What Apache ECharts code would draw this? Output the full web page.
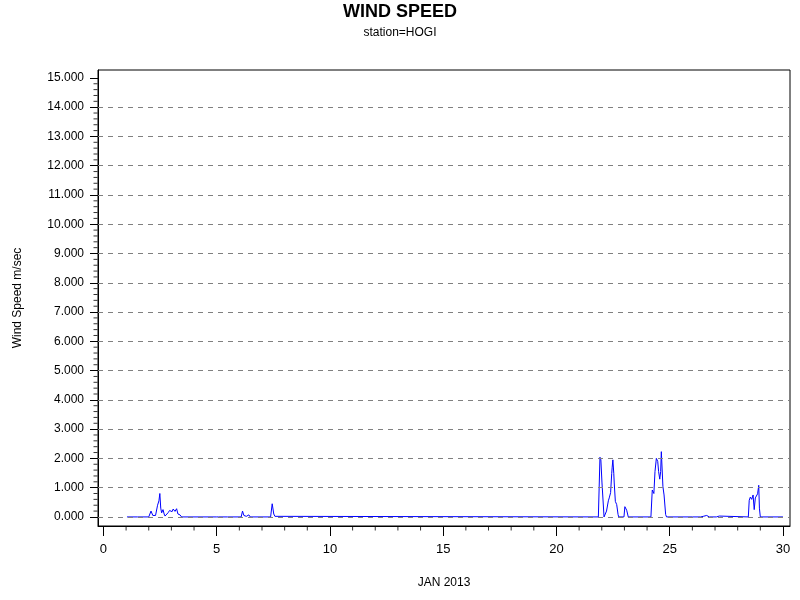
<!DOCTYPE html>
<html>
<head>
<meta charset="utf-8">
<script src="https://cdn.jsdelivr.net/npm/echarts@6/dist/echarts.min.js"></script>
<style>html,body{margin:0;padding:0;background:#fff}#c{width:800px;height:600px}</style>
</head>
<body>
<div id="c"></div>
<script>
// Day of January 2013 (fractional) and wind speed (m/sec)
const days = [1.04,1.50,1.54,1.58,2.00,2.10,2.18,2.24,2.30,2.39,2.45,2.49,2.53,2.57,2.63,2.68,2.72,2.78,2.86,2.92,2.97,3.03,3.08,3.16,3.23,3.29,3.34,3.38,3.45,
  4.98,5.03,5.08,5.48,5.51,5.55,6.08,6.14,6.20,6.26,6.31,6.36,6.42,6.48,7.38,7.45,7.52,7.57,7.60,7.65,
  21.85,21.92,21.96,22.01,22.10,22.16,22.21,22.29,22.33,22.39,22.44,22.46,22.49,22.53,22.55,22.60,22.66,22.72,22.75,22.98,23.02,23.10,23.17,
  24.17,24.23,24.27,24.30,24.35,24.41,24.47,24.51,24.56,24.60,24.63,24.67,24.70,24.75,24.82,24.86,
  26.00,26.04,26.08,26.37,26.41,26.48,26.56,26.63,26.69,26.75,27.06,27.10,27.19,27.23,
  28.47,28.51,28.56,28.62,28.68,28.73,28.78,28.84,28.88,28.93,28.96,29.00,30.00];
const speeds = [0,0,0.03,0,0,0.2,0.05,0,0.05,0.4,0.55,0.8,0.3,0.14,0.25,0.1,0.03,0.02,0.15,0.22,0.25,0.18,0.27,0.19,0.28,0.1,0.04,0.07,0,
  0,0.05,0,0,0.03,0,0,0.2,0.05,0.03,0.02,0.08,0.07,0,0,0.45,0.1,0.02,0.05,0,
  0,2.04,1.95,1.16,0,0,0.2,0.55,0.65,0.83,1.49,1.7,1.95,1.49,1.16,0.53,0.42,0.08,0,0,0.35,0.23,0,
  0,0.92,0.97,0.8,1.55,2.0,1.9,1.55,1.29,1.55,2.23,2.18,1.03,0.75,0.08,0,
  0,0.04,0,0,0.06,0.02,0.08,0.05,0.1,0,0,0.03,0.03,0,
  0,0.57,0.68,0.6,0.75,0.25,0.65,0.63,0.79,1.08,0.3,0,0];

const xMajorTicks = [0,5,10,15,20,25,30];
const xMinorTicks = [];
for (let d = 0; d <= 30; d++) if (d % 5 !== 0) xMinorTicks.push(d);
const yMajorTicks = [0,1,2,3,4,5,6,7,8,9,10,11,12,13,14,15];
const yMinorTicks = [];
for (let i = 0; i <= 75; i++) if (i % 5 !== 0) yMinorTicks.push(+(i * 0.2).toFixed(1));
const gridValues = [0,1,2,3,4,5,6,7,8,9,10,11,12,13,14];

const FONT = 'Liberation Sans, Arial, sans-serif';
const xMin = -0.24, xMax = 30.31, yMin = -0.31, yMax = 15.27;

const chart = echarts.init(document.getElementById('c'));
chart.setOption({
  animation: false,
  backgroundColor: '#fff',
  title: {
    text: 'WIND SPEED', subtext: 'station=HOGI', left: 'center', top: -2, itemGap: 6,
    textStyle: {fontFamily: FONT, fontSize: 18, fontWeight: 'bold', color: '#000'},
    subtextStyle: {fontFamily: FONT, fontSize: 12, color: '#000'}
  },
  grid: {left: 98, right: 10, top: 70, bottom: 74, show: true, borderColor: '#000', borderWidth: 1, backgroundColor: 'transparent'},
  xAxis: {
    type: 'value', min: xMin, max: xMax, position: 'bottom',
    name: 'JAN 2013', nameLocation: 'middle', nameGap: 51,
    nameTextStyle: {fontFamily: FONT, fontSize: 12, color: '#000'},
    axisLine: {show: true, onZero: false, lineStyle: {color: '#000', width: 1}},
    axisTick: {show: true, length: 10, customValues: xMajorTicks, lineStyle: {color: '#000'}},
    axisLabel: {show: true, customValues: xMajorTicks, margin: 17, fontFamily: FONT, fontSize: 13, color: '#000'},
    splitLine: {show: false}
  },
  yAxis: {
    type: 'value', min: yMin, max: yMax, position: 'left',
    name: 'Wind Speed m/sec', nameLocation: 'middle', nameGap: 74, nameRotate: 90,
    nameTextStyle: {fontFamily: FONT, fontSize: 12, color: '#000'},
    axisLine: {show: true, onZero: false, lineStyle: {color: '#000', width: 1}},
    axisTick: {show: true, length: 8, customValues: yMajorTicks, lineStyle: {color: '#000'}},
    axisLabel: {show: true, customValues: yMajorTicks, margin: 14, fontFamily: FONT, fontSize: 12, color: '#000',
      formatter: v => v.toFixed(3)},
    splitLine: {show: false}
  },
  series: [{
    type: 'line', data: [], z: 1, silent: true,
    markLine: {
      silent: true, symbol: 'none', animation: false,
      label: {show: false},
      lineStyle: {type: [5, 5], color: '#808080', width: 1},
      data: gridValues.map(v => ({yAxis: v}))
    }
  }, {
    // minor ticks below the x axis
    type: 'scatter', silent: true, clip: false, z: 5,
    data: xMinorTicks.map(d => [d, yMin]),
    symbol: 'rect', symbolSize: [1, 4], symbolOffset: [0, 2.5],
    itemStyle: {color: '#000'}
  }, {
    // minor ticks left of the y axis
    type: 'scatter', silent: true, clip: false, z: 5,
    data: yMinorTicks.map(v => [xMin, v]),
    symbol: 'rect', symbolSize: [4, 1], symbolOffset: [-2.5, 0],
    itemStyle: {color: '#000'}
  }, {
    type: 'line', z: 3,
    data: days.map((d, i) => [d, speeds[i]]),
    showSymbol: false, symbol: 'none',
    lineStyle: {color: '#0000ff', width: 1},
    itemStyle: {color: '#0000ff'}
  }]
});
</script>
</body>
</html>
